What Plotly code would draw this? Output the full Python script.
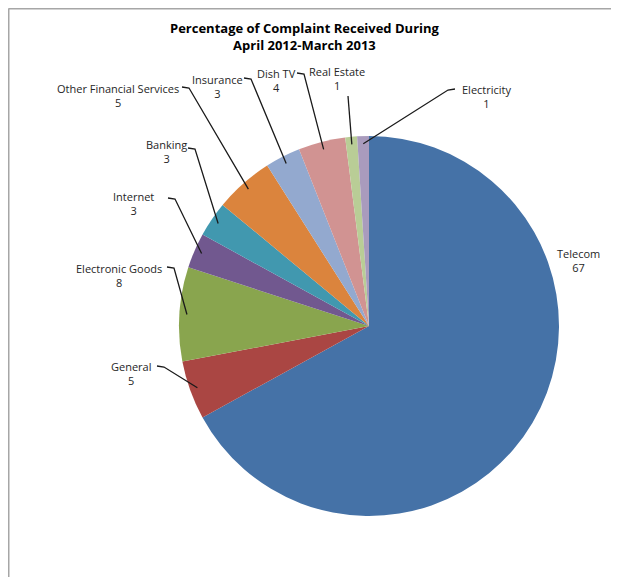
import math
import plotly.graph_objects as go

categories = ["Telecom", "General", "Electronic Goods", "Internet", "Banking",
              "Other Financial Services", "Insurance", "Dish TV", "Real Estate", "Electricity"]
values = [67, 5, 8, 3, 3, 5, 3, 4, 1, 1]
colors = ["#4572A7", "#AA4643", "#89A54E", "#71588F", "#4198AF",
          "#DB843D", "#93A9CF", "#D19392", "#B9CD96", "#A99BBD"]
title_lines = ["Percentage of Complaint Received During", "April 2012-March 2013"]

# layout constants (screen pixels); page body has an 8px margin
OFF = 8
W, H = 611, 569
CX, CY, R = 369, 326, 190
# label block centres
label_pos = {
    "Telecom": (578, 260),
    "Electricity": (486, 97),
    "Real Estate": (337, 78),
    "Dish TV": (276, 81),
    "Insurance": (217, 86),
    "Other Financial Services": (118, 95),
    "Banking": (166, 151),
    "Internet": (133, 204),
    "Electronic Goods": (119, 275),
    "General": (131, 373),
}
# leader line start points and first-segment direction (+1 right, -1 left, 0 vertical)
leader_start = {
    "Electricity": (455, 89, -1),
    "Real Estate": (348, 96, 0),
    "Dish TV": (297, 73, 1),
    "Insurance": (244, 78, 1),
    "Other Financial Services": (182, 87, 1),
    "Banking": (188, 148, 1),
    "Internet": (168, 198, 1),
    "Electronic Goods": (167, 267, 1),
    "General": (157, 366, 1),
}
FONT = "Open Sans, sans-serif"


def px2paper(sx, sy):
    return (sx - OFF) / W, 1 - (sy - OFF) / H


fig = go.Figure()
dx0, dy1 = px2paper(CX - R, CY - R)
dx1, dy0 = px2paper(CX + R, CY + R)
fig.add_trace(go.Pie(
    labels=categories, values=values, sort=False, direction="clockwise", rotation=0,
    marker=dict(colors=colors, line=dict(width=0)),
    textinfo="none", showlegend=False, hoverinfo="label+value",
    domain=dict(x=[dx0, dx1], y=[dy0, dy1]),
))

annotations = []
shapes = []
total = sum(values)
cum = 0
for cat, v in zip(categories, values):
    theta = 2 * math.pi * (cum + v / 2) / total
    cum += v
    lx, ly = label_pos[cat]
    x, y = px2paper(lx, ly)
    annotations.append(dict(x=x, y=y, xref="paper", yref="paper",
                            xanchor="center", yanchor="middle", align="center",
                            text=f"{cat}<br>{v}", showarrow=False,
                            font=dict(family=FONT, size=11, color="#262626")))
    if cat in leader_start:
        px = CX + 0.96 * R * math.sin(theta)
        py = CY - 0.96 * R * math.cos(theta)
        sx, sy, d = leader_start[cat]
        pts = [(sx, sy)]
        if d != 0:
            pts.append((sx + 7 * d, sy + 1))
        pts.append((px, py))
        pp = [px2paper(a, b) for a, b in pts]
        path = "M " + " L ".join(f"{a},{b}" for a, b in pp)
        shapes.append(dict(type="path", xref="paper", yref="paper", path=path,
                           line=dict(color="#1A1A1A", width=1.3)))

tx, ty = px2paper(305, 37)
annotations.append(dict(x=tx, y=ty, xref="paper", yref="paper",
                        xanchor="center", yanchor="middle",
                        text="<b>" + title_lines[0] + "</b><br><b>" + title_lines[1] + "</b>",
                        showarrow=False, align="center",
                        font=dict(family=FONT, size=13, color="#000000")))

bx = 0.5 / W
by = 1 - 0.5 / H
shapes += [
    dict(type="line", xref="paper", yref="paper", x0=bx, x1=bx, y0=0, y1=by,
         line=dict(color="#A6A6A6", width=2)),
    dict(type="line", xref="paper", yref="paper", x0=bx, x1=1, y0=by, y1=by,
         line=dict(color="#A6A6A6", width=2)),
]

fig.update_layout(
    width=W, height=H, margin=dict(l=0, r=0, t=0, b=0),
    paper_bgcolor="white", plot_bgcolor="white",
    annotations=annotations, shapes=shapes,
)
fig.write_html("out.html")
